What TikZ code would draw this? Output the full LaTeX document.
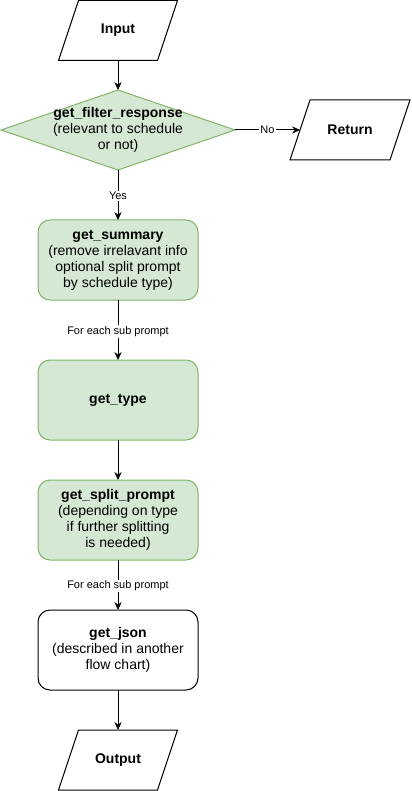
\documentclass[tikz,border=0pt]{standalone}
\usepackage{fontspec}
\setmainfont{Liberation Sans}
\usetikzlibrary{arrows.meta,calc}
\definecolor{gfill}{HTML}{D5E8D4}
\definecolor{gline}{HTML}{82B366}
\begin{document}
\begin{tikzpicture}[x=0.75pt,y=-0.75pt,
  txt/.style={font=\fontsize{10.5pt}{12pt}\selectfont, align=center, inner sep=0pt, outer sep=0pt},
  gbox/.style={txt, draw=gline, fill=gfill, line width=0.75pt, rounded corners=9pt, minimum width=120pt, minimum height=60pt},
  wbox/.style={gbox, draw=black, fill=white},
  para/.style={txt, minimum width=74.25pt, minimum height=45pt},
  shapeline/.style={line width=0.75pt, draw=black},
  conn/.style={line width=0.75pt, draw=black, -{Stealth[length=6pt,width=5.5pt,inset=2pt]}},
  elabel/.style={font=\fontsize{8.25pt}{9.5pt}\selectfont, fill=white, inner sep=1pt}]
\useasboundingbox (0,0) rectangle (411,791);

% Input
\node[para] (in) at (118,30.5) {\textbf{Input}};
\draw[shapeline] ($(in.north west)+(10,0)$) -- ($(in.north east)+(10,0)$) -- ($(in.south east)+(-10,0)$) -- ($(in.south west)+(-10,0)$) -- cycle;

% Decision
\node[txt, minimum width=175.5pt, minimum height=60pt] (dia) at (118,130) {};
\draw[line width=0.75pt, draw=gline, fill=gfill] (dia.north) -- (dia.east) -- (dia.south) -- (dia.west) -- cycle;
\node[txt] (diatext) at (dia.center) {\textbf{get\_filter\_response}\\(relevant to schedule\\or not)};

% Return
\node[para, minimum width=75pt] (ret) at (350,130) {\textbf{Return}};
\draw[shapeline] ($(ret.north west)+(10,0)$) -- ($(ret.north east)+(10,0)$) -- ($(ret.south east)+(-10,0)$) -- ($(ret.south west)+(-10,0)$) -- cycle;

% Process boxes
\node[gbox] (sum) at (118,260) {\textbf{get\_summary}\\(remove irrelavant info\\optional split prompt\\by schedule type)};
\node[gbox] (type) at (118,400) {\textbf{get\_type}};
\node[gbox] (split) at (118,520) {\textbf{get\_split\_prompt}\\(depending on type\\if further splitting\\is needed)};
\node[wbox] (json) at (118,650) {\textbf{get\_json}\\(described in another\\flow chart)};

% Output
\node[para] (out) at (118,760) {\textbf{Output}};
\draw[shapeline] ($(out.north west)+(10,0)$) -- ($(out.north east)+(10,0)$) -- ($(out.south east)+(-10,0)$) -- ($(out.south west)+(-10,0)$) -- cycle;

% Connectors
\draw[conn] (in.south) -- (dia.north);
\draw[conn] (dia.east) -- node[elabel, pos=0.5] {No} (ret.west);
\draw[conn] (dia.south) -- node[elabel, pos=0.52] {Yes} (sum.north);
\draw[conn] (sum.south) -- node[elabel, pos=0.52] {For each sub prompt} (type.north);
\draw[conn] (type.south) -- (split.north);
\draw[conn] (split.south) -- node[elabel, pos=0.52] {For each sub prompt} (json.north);
\draw[conn] (json.south) -- (out.north);
\end{tikzpicture}
\end{document}
